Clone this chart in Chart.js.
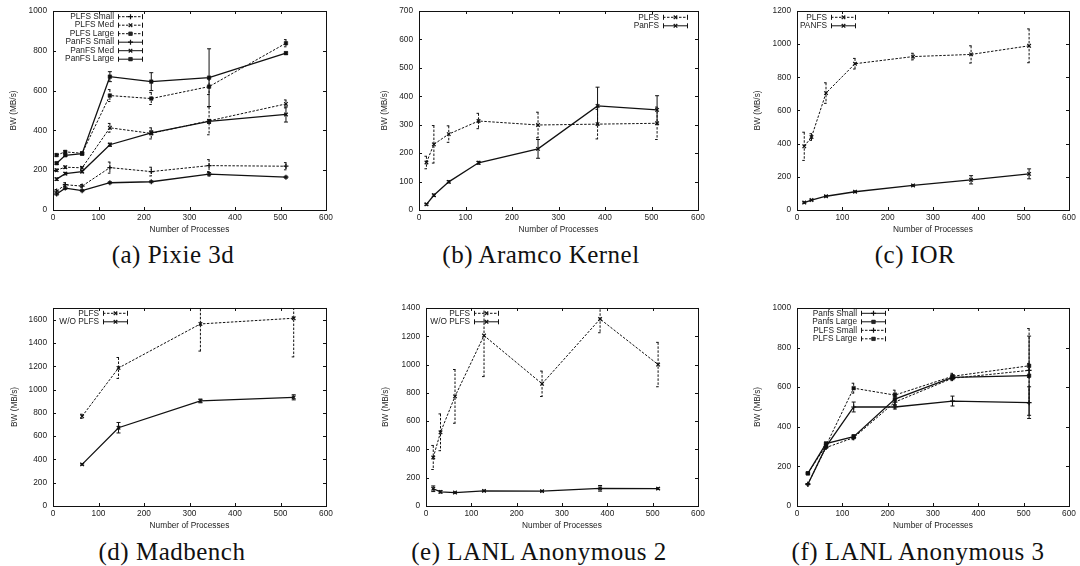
<!DOCTYPE html>
<html>
<head>
<meta charset="utf-8">
<script src="https://cdn.jsdelivr.net/npm/chart.js@4.4.1/dist/chart.umd.min.js"></script>
<style>
  body { margin: 0; background: #fff; width: 1080px; height: 566px; position: relative; overflow: hidden; }
  canvas { position: absolute; }
  .cap { position: absolute; font-family: "Liberation Serif", serif; font-size: 25px; color: #111;
         letter-spacing: 0.5px; transform: translate(-50%, -50%); white-space: nowrap; line-height: 1; }
</style>
</head>
<body>
<canvas id="chartA" width="341" height="236" style="left:0px;top:0px"></canvas>
<canvas id="chartB" width="353" height="236" style="left:360px;top:0px"></canvas>
<canvas id="chartC" width="360" height="236" style="left:720px;top:0px"></canvas>
<canvas id="chartD" width="341" height="235" style="left:0px;top:297px"></canvas>
<canvas id="chartE" width="353" height="235" style="left:360px;top:297px"></canvas>
<canvas id="chartF" width="360" height="235" style="left:720px;top:297px"></canvas>
<div class="cap" style="left:173px;top:254px">(a) Pixie 3d</div>
<div class="cap" style="left:541px;top:254px">(b) Aramco Kernel</div>
<div class="cap" style="left:915px;top:254px">(c) IOR</div>
<div class="cap" style="left:172px;top:551px">(d) Madbench</div>
<div class="cap" style="left:539px;top:551px">(e) LANL Anonymous 2</div>
<div class="cap" style="left:918px;top:551px">(f) LANL Anonymous 3</div>
<script>
// (a) Pixie 3d
const pixieProcs = [8, 27, 64, 125, 216, 343, 512];
const pixiePlfsSmall = [95, 127, 120, 213, 193, 223, 220];
const pixiePlfsSmallErr = [8, 10, 8, 28, 22, 30, 18];
const pixiePlfsMed = [200, 215, 212, 413, 385, 448, 533];
const pixiePlfsMedErr = [6, 6, 6, 22, 28, 70, 20];
const pixiePlfsLarge = [276, 292, 285, 575, 560, 620, 838];
const pixiePlfsLargeErr = [6, 6, 6, 30, 30, 40, 18];
const pixiePanSmall = [80, 110, 97, 137, 142, 180, 165];
const pixiePanSmallErr = [5, 6, 5, 5, 5, 8, 5];
const pixiePanMed = [155, 183, 193, 328, 388, 445, 480];
const pixiePanMedErr = [6, 6, 6, 8, 10, 10, 38];
const pixiePanLarge = [235, 275, 283, 670, 645, 665, 788];
const pixiePanLargeErr = [6, 6, 6, 25, 45, 145, 6];

// (b) Aramco Kernel
const aramcoProcs = [16, 32, 64, 128, 256, 384, 512];
const aramcoPlfs = [167, 231, 267, 313, 299, 302, 305];
const aramcoPlfsErr = [22, 66, 29, 27, 45, 52, 57];
const aramcoPan = [20, 52, 99, 166, 215, 366, 352];
const aramcoPanErr = [3, 4, 4, 5, 33, 66, 50];

// (c) IOR
const iorProcs = [16, 32, 64, 128, 256, 384, 512];
const iorPlfs = [384, 440, 705, 882, 925, 938, 990];
const iorPlfsErr = [85, 20, 62, 32, 20, 52, 102];
const iorPan = [45, 60, 83, 110, 148, 182, 218];
const iorPanErr = [4, 4, 4, 4, 4, 25, 30];

// (d) Madbench
const madProcs = [64, 144, 324, 529];
const madPlfs = [770, 1185, 1563, 1612];
const madPlfsErr = [18, 90, 233, 332];
const madNoPlfs = [357, 672, 902, 933];
const madNoPlfsErr = [6, 45, 16, 22];

// (e) LANL Anonymous 2
const anon2Procs = [16, 32, 64, 128, 256, 384, 512];
const anon2Plfs = [343, 521, 775, 1205, 864, 1322, 1000];
const anon2PlfsErr = [85, 130, 190, 290, 90, 97, 157];
const anon2NoPlfs = [122, 100, 95, 107, 105, 125, 123];
const anon2NoPlfsErr = [20, 8, 4, 5, 4, 20, 6];

// (f) LANL Anonymous 3
const anon3Procs = [24, 64, 125, 216, 343, 512];
const anon3PanSmall = [110, 300, 500, 500, 530, 522];
const anon3PanSmallErr = [3, 8, 25, 10, 25, 80];
const anon3PanLarge = [165, 315, 350, 540, 650, 658];
const anon3PanLargeErr = [3, 8, 10, 30, 12, 200];
const anon3PlfsSmall = [110, 295, 345, 525, 645, 685];
const anon3PlfsSmallErr = [3, 8, 10, 15, 12, 35];
const anon3PlfsLarge = [165, 305, 595, 560, 655, 708];
const anon3PlfsLargeErr = [3, 8, 25, 25, 15, 188];

const INK = "#111";
const DASH = [2.5, 1.5];

Chart.defaults.font.family = "'Liberation Sans', Arial, sans-serif";
Chart.defaults.font.size = 8.3;
Chart.defaults.color = "#222";

// one line with error bars, gnuplot style
function series(label, xs, ys, errs, dashed, marker) {
  const pts = [];
  for (let i = 0; i < xs.length; i++) {
    pts.push({ x: xs[i], y: ys[i] });
  }
  return {
    label: label,
    data: pts,
    errs: errs,
    borderColor: INK,
    backgroundColor: INK,
    borderWidth: dashed ? 1 : 1.3,
    borderDash: dashed ? DASH : [],
    pointStyle: marker,
    pointRadius: 2.5,
    pointBorderWidth: marker === "rect" ? 0.5 : 1.2,
    pointBackgroundColor: INK,
    pointBorderColor: INK,
    tension: 0,
  };
}

// border box, inward ticks, error bars and the legend
const gnuplotLook = {
  id: "gnuplotLook",
  afterDatasetsDraw(chart) {
    const ctx = chart.ctx;
    const area = chart.chartArea;
    const ys = chart.scales.y;
    ctx.save();
    ctx.beginPath();
    ctx.rect(area.left, area.top, area.right - area.left, area.bottom - area.top);
    ctx.clip();
    chart.data.datasets.forEach((ds, di) => {
      const meta = chart.getDatasetMeta(di);
      ctx.strokeStyle = INK;
      ctx.lineWidth = 1;
      ctx.setLineDash(ds.borderDash);
      meta.data.forEach((pt, i) => {
        const v = ds.data[i].y;
        const e = ds.errs[i];
        const top = ys.getPixelForValue(v + e);
        const bot = ys.getPixelForValue(v - e);
        ctx.beginPath();
        ctx.moveTo(pt.x, top);
        ctx.lineTo(pt.x, bot);
        ctx.moveTo(pt.x - 2, top);
        ctx.lineTo(pt.x + 2, top);
        ctx.moveTo(pt.x - 2, bot);
        ctx.lineTo(pt.x + 2, bot);
        ctx.stroke();
      });
    });
    ctx.restore();
  },
  afterDraw(chart, args, opts) {
    const ctx = chart.ctx;
    const a = chart.chartArea;
    ctx.save();
    ctx.strokeStyle = INK;
    ctx.lineWidth = 1;
    ctx.setLineDash([]);
    ctx.strokeRect(Math.round(a.left) + 0.5, Math.round(a.top) + 0.5,
      Math.round(a.right - a.left), Math.round(a.bottom - a.top));
    // ticks on all four sides, pointing in
    ctx.beginPath();
    chart.scales.x.ticks.forEach((t) => {
      const px = Math.round(chart.scales.x.getPixelForValue(t.value)) + 0.5;
      ctx.moveTo(px, a.bottom);
      ctx.lineTo(px, a.bottom - 3);
      ctx.moveTo(px, a.top);
      ctx.lineTo(px, a.top + 3);
    });
    chart.scales.y.ticks.forEach((t) => {
      const py = Math.round(chart.scales.y.getPixelForValue(t.value)) + 0.5;
      ctx.moveTo(a.left, py);
      ctx.lineTo(a.left + 3, py);
      ctx.moveTo(a.right, py);
      ctx.lineTo(a.right - 3, py);
    });
    ctx.stroke();

    // legend: text on the left, line sample on the right
    const lg = opts.legend;
    ctx.font = "8.3px 'Liberation Sans', Arial, sans-serif";
    ctx.textAlign = "right";
    ctx.textBaseline = "middle";
    chart.data.datasets.forEach((ds, i) => {
      const y = lg.y + i * lg.row;
      ctx.fillStyle = "#222";
      ctx.fillText(ds.label, lg.x, y);
      const x0 = lg.x + 4;
      const x1 = x0 + 25;
      ctx.strokeStyle = INK;
      ctx.lineWidth = 1;
      ctx.setLineDash(ds.borderDash);
      ctx.beginPath();
      ctx.moveTo(x0, y);
      ctx.lineTo(x1, y);
      ctx.stroke();
      ctx.setLineDash([]);
      ctx.beginPath();
      ctx.moveTo(x0 + 0.5, y - 2.5);
      ctx.lineTo(x0 + 0.5, y + 2.5);
      ctx.moveTo(x1 - 0.5, y - 2.5);
      ctx.lineTo(x1 - 0.5, y + 2.5);
      ctx.stroke();
      ctx.lineWidth = ds.pointBorderWidth;
      Chart.helpers.drawPoint(ctx, { pointStyle: ds.pointStyle, radius: 2.5, borderWidth: ds.pointBorderWidth, rotation: 0 },
        (x0 + x1) / 2, y);
      if (ds.pointStyle === "rect") ctx.fill();
    });
    ctx.restore();
  },
};

function makeChart(id, datasets, s) {
  new Chart(document.getElementById(id), {
    type: "line",
    data: { datasets: datasets },
    plugins: [gnuplotLook],
    options: {
      responsive: false,
      animation: false,
      layout: { padding: { left: 0, top: s.padTop, right: s.padRight, bottom: 0 } },
      plugins: {
        legend: { display: false },
        tooltip: { enabled: false },
        gnuplotLook: { legend: s.legend },
      },
      scales: {
        x: {
          type: "linear",
          min: 0,
          max: 600,
          grid: { display: false, drawTicks: false, tickLength: 0 },
          border: { display: false },
          ticks: { stepSize: 100, padding: 3, maxRotation: 0, autoSkip: false, callback: (v) => v },
          title: { display: true, text: "Number of Processes", padding: { top: 0, bottom: 1 } },
          afterFit: (sc) => { sc.height = 26; },
        },
        y: {
          type: "linear",
          min: 0,
          max: s.yMax,
          grid: { display: false, drawTicks: false, tickLength: 0 },
          border: { display: false },
          ticks: { stepSize: s.yStep, padding: 6, autoSkip: false, callback: (v) => v },
          afterBuildTicks: (sc) => { sc.ticks = sc.ticks.filter((t) => t.value % s.yStep === 0); },
          title: { display: true, text: "BW (MB/s)", padding: { top: s.titlePad, bottom: 0 } },
          afterFit: (sc) => { sc.width = s.yWidth; },
        },
      },
    },
  });
}

makeChart("chartA", [
  series("PLFS Small", pixieProcs, pixiePlfsSmall, pixiePlfsSmallErr, true, "cross"),
  series("PLFS Med", pixieProcs, pixiePlfsMed, pixiePlfsMedErr, true, "crossRot"),
  series("PLFS Large", pixieProcs, pixiePlfsLarge, pixiePlfsLargeErr, true, "rect"),
  series("PanFS Small", pixieProcs, pixiePanSmall, pixiePanSmallErr, false, "cross"),
  series("PanFS Med", pixieProcs, pixiePanMed, pixiePanMedErr, false, "crossRot"),
  series("PanFS Large", pixieProcs, pixiePanLarge, pixiePanLargeErr, false, "rect"),
], { padTop: 10, padRight: 15, yMax: 1000, yStep: 200, yWidth: 53, titlePad: 9, legend: { x: 114, y: 16.7, row: 8.5 } });

makeChart("chartB", [
  series("PLFS", aramcoProcs, aramcoPlfs, aramcoPlfsErr, true, "crossRot"),
  series("PanFS", aramcoProcs, aramcoPan, aramcoPanErr, false, "crossRot"),
], { padTop: 10, padRight: 15, yMax: 700, yStep: 100, yWidth: 59, titlePad: 20, legend: { x: 299, y: 17.3, row: 8.5 } });

makeChart("chartC", [
  series("PLFS", iorProcs, iorPlfs, iorPlfsErr, true, "crossRot"),
  series("PANFS", iorProcs, iorPan, iorPanErr, false, "crossRot"),
], { padTop: 10, padRight: 11, yMax: 1200, yStep: 200, yWidth: 77, titlePad: 33, legend: { x: 107, y: 17.3, row: 8.5 } });

makeChart("chartD", [
  series("PLFS", madProcs, madPlfs, madPlfsErr, true, "crossRot"),
  series("W/O PLFS", madProcs, madNoPlfs, madNoPlfsErr, false, "crossRot"),
], { padTop: 10, padRight: 15, yMax: 1700, yStep: 200, yWidth: 53, titlePad: 10, legend: { x: 99, y: 16.3, row: 8.5 } });

makeChart("chartE", [
  series("PLFS", anon2Procs, anon2Plfs, anon2PlfsErr, true, "crossRot"),
  series("W/O PLFS", anon2Procs, anon2NoPlfs, anon2NoPlfsErr, false, "crossRot"),
], { padTop: 10, padRight: 15, yMax: 1400, yStep: 200, yWidth: 66, titlePad: 21, legend: { x: 110, y: 16.3, row: 8.5 } });

makeChart("chartF", [
  series("Panfs Small", anon3Procs, anon3PanSmall, anon3PanSmallErr, false, "cross"),
  series("Panfs Large", anon3Procs, anon3PanLarge, anon3PanLargeErr, false, "rect"),
  series("PLFS Small", anon3Procs, anon3PlfsSmall, anon3PlfsSmallErr, true, "cross"),
  series("PLFS Large", anon3Procs, anon3PlfsLarge, anon3PlfsLargeErr, true, "rect"),
], { padTop: 10, padRight: 11, yMax: 1000, yStep: 200, yWidth: 77, titlePad: 33, legend: { x: 137, y: 16.3, row: 8.5 } });
</script>
</body>
</html>
